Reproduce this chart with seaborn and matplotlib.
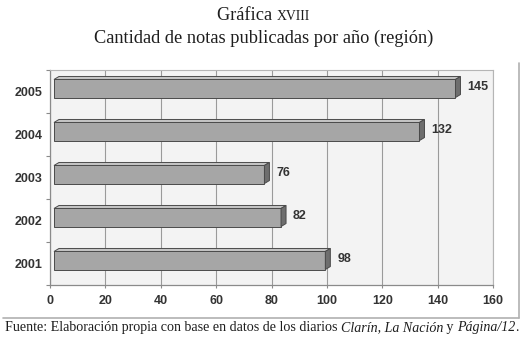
import matplotlib
matplotlib.use('Agg')
import matplotlib.pyplot as plt
import seaborn as sns
import pandas as pd
from matplotlib.transforms import ScaledTranslation, IdentityTransform
from matplotlib.patches import Polygon
from matplotlib.lines import Line2D

# ---- data ----
years = ['2005', '2004', '2003', '2002', '2001']
counts = [145, 132, 76, 82, 98]
xticks = [0, 20, 40, 60, 80, 100, 120, 140, 160]
title_1 = "Gráfica "
title_1_sc = "XVIII"
title_2 = "Cantidad de notas publicadas por año (región)"
caption_parts = [("Fuente: Elaboración propia con base en datos de los diarios ", 'normal'),
                 ("Clarín, La Nación", 'italic'),
                 (" y ", 'normal'),
                 ("Página/12", 'italic'),
                 (".", 'normal')]

sns.set_theme(style='white')
plt.rcParams['font.family'] = ['Liberation Sans', 'DejaVu Sans']

W, H = 527, 348
DPI = 100
fig = plt.figure(figsize=(W / DPI, H / DPI), dpi=DPI)
fig.patch.set_facecolor('white')
ax = fig.add_axes([50 / W, 1 - 285 / H, 443 / W, 215 / H])

df = pd.DataFrame({'year': years, 'count': counts})
sns.barplot(data=df, x='count', y='year', order=years, orient='h',
            color='#a6a6a6', saturation=1, width=0.42,
            edgecolor='#4a4a4a', linewidth=0.7, ax=ax, zorder=3)

ax.set_xlim(0, 160)
ax.set_ylim(4.5, -0.5)
ax.set_facecolor('#f3f3f3')
ax.set_xticks(xticks)
ax.set_xticklabels([str(t) for t in xticks])
ax.grid(axis='x', color='#9a9a9a', linewidth=0.8, zorder=0)
ax.grid(axis='y', visible=False)
ax.set_axisbelow(True)
ax.set_xlabel('')
ax.set_ylabel('')
for side in ['top', 'right']:
    ax.spines[side].set_color('#b5b5b5')
    ax.spines[side].set_linewidth(0.8)
for side in ['left', 'bottom']:
    ax.spines[side].set_color('#8a8a8a')
    ax.spines[side].set_linewidth(0.9)

ax.set_yticks([i + 0.5 for i in range(-1, len(years))], minor=True)
ax.tick_params(axis='y', which='major', length=0, pad=5.5,
               labelsize=9, labelcolor='#333333')
ax.tick_params(axis='y', which='minor', length=3, color='#8a8a8a', width=0.8, left=True)
ax.tick_params(axis='x', which='major', length=2.5, color='#8a8a8a', width=0.8,
               bottom=True, pad=5, labelsize=9, labelcolor='#333333')
for lab in ax.get_xticklabels() + ax.get_yticklabels():
    lab.set_fontweight('bold')

# ---- pseudo-3D bars ----
shift_x, shift_y = 4, 3      # front face shift (px)
dep_x, dep_y = 5, 3          # depth (px)
trans_shift = ax.transData + ScaledTranslation(shift_x / DPI, shift_y / DPI, fig.dpi_scale_trans)
for p, val in zip(ax.patches, counts):
    p.set_transform(trans_shift)
    x0, y0 = p.get_x(), p.get_y()
    x1, y1 = x0 + p.get_width(), y0 + p.get_height()
    (px0, py_a) = ax.transData.transform((x0, y0))
    (px1, py_b) = ax.transData.transform((x1, y1))
    top = max(py_a, py_b) + shift_y
    bot = min(py_a, py_b) + shift_y
    px0 += shift_x
    px1 += shift_x
    top_face = [(px0, top), (px1, top), (px1 + dep_x, top + dep_y), (px0 + dep_x, top + dep_y)]
    side_face = [(px1, bot), (px1 + dep_x, bot + dep_y), (px1 + dep_x, top + dep_y), (px1, top)]
    ax.add_patch(Polygon(top_face, closed=True, transform=IdentityTransform(),
                         facecolor='#c4c4c4', edgecolor='#4a4a4a', linewidth=0.7, zorder=3))
    ax.add_patch(Polygon(side_face, closed=True, transform=IdentityTransform(),
                         facecolor='#6e6e6e', edgecolor='#4a4a4a', linewidth=0.7, zorder=3))

for i, val in enumerate(counts):
    ax.annotate(str(val), xy=(val, i), xytext=(16, 4.5), textcoords='offset pixels',
                ha='left', va='center', fontsize=9, fontweight='bold', color='#333333',
                annotation_clip=False)

# ---- frame lines (shadow box) ----
fig.add_artist(Line2D([3 / W, 519 / W], [1 - 318 / H, 1 - 318 / H], transform=fig.transFigure,
                      color='#b0b0b0', linewidth=1.2))
fig.add_artist(Line2D([519 / W, 519 / W], [1 - 63 / H, 1 - 318 / H], transform=fig.transFigure,
                      color='#b0b0b0', linewidth=1.2))

# ---- titles & caption (serif, measured layout) ----
renderer = fig.canvas.get_renderer()
serif = ['Liberation Serif', 'DejaVu Serif']
title_color = '#1e1e1e'

# Title line 2
s2 = 13.2
fig.text(0.5, 1 - 42.5 / H, title_2, ha='center', va='baseline', fontsize=s2,
         family=serif, color=title_color)

# Title line 1 with small caps
s1 = 13.2
ta = fig.text(0, 1 - 20.5 / H, title_1, ha='left', va='baseline', fontsize=s1,
              family=serif, color=title_color)
tb = fig.text(0, 1 - 20.5 / H, title_1_sc, ha='left', va='baseline', fontsize=s1 * 0.75,
              family=serif, color=title_color)
wa = ta.get_window_extent(renderer).width
wb = tb.get_window_extent(renderer).width
xs = (W - (wa + wb)) / 2
ta.set_x(xs / W)
tb.set_x((xs + wa) / W)

# Caption (fitted to the reference width)
tmp_ws = []
for part, st in caption_parts:
    t = fig.text(0, 0, part, fontsize=10, family=serif, style=st)
    tmp_ws.append(t.get_window_extent(renderer).width)
    t.remove()
sc = 10 * 514 / sum(tmp_ws)
x = 5.0
for part, st in caption_parts:
    t = fig.text(x / W, 1 - 331 / H, part, ha='left', va='baseline', fontsize=sc,
                 family=serif, style=st, color=title_color)
    x += t.get_window_extent(renderer).width

fig.savefig('out.png', dpi=DPI, facecolor='white')
